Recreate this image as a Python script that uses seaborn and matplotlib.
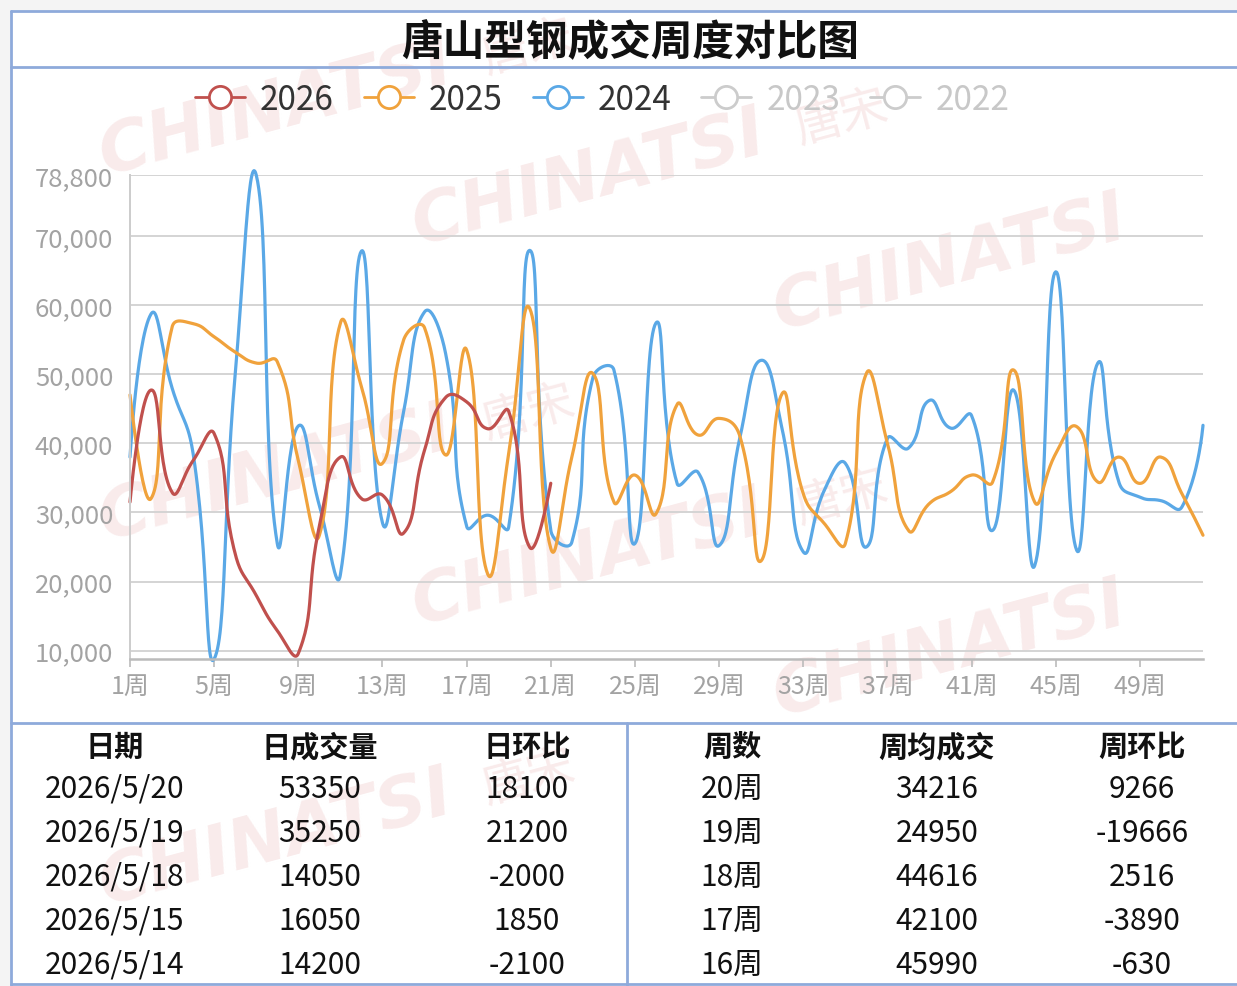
import numpy as np
import matplotlib
matplotlib.use("Agg")
import matplotlib.pyplot as plt
from matplotlib.lines import Line2D
from matplotlib.patches import Rectangle
import seaborn as sns

# CONFIG
sns.set_theme(style="white")
plt.rcParams["font.family"] = ["Noto Sans CJK SC", "DejaVu Sans"]
plt.rcParams["axes.unicode_minus"] = False

# DATA
weeks = list(range(1, 53))
tick_weeks = list(range(1, 53, 4))
tick_labels = [f"{w}周" for w in tick_weeks]

sales_2026 = [31500, 47700, 32900, 37500, 41400, 24000, 18000, 12900, 9600, 28000,
              38000, 32000, 32500, 27000, 39000, 46620, 45990, 42100, 44616, 24950,
              34216]
sales_2025 = [47000, 32000, 56800, 57300, 55400, 53200, 51600, 51800, 37500, 26700,
              57400, 48200, 37100, 54900, 56700, 38300, 53500, 21100, 38500, 59500,
              24800, 38000, 50100, 31500, 35400, 29800, 45600, 41200, 43600, 40900,
              23000, 47200, 32700, 28400, 25500, 50100, 40000, 27400, 31300, 33000,
              35400, 34400, 50600, 31500, 38500, 42400, 34400, 38000, 34200, 38000,
              32700, 26700]
sales_2024 = [38000, 58700, 48000, 38500, 8800, 50000, 78800, 25500, 42500, 31000,
              21000, 67800, 28500, 44500, 59000, 53000, 28000, 29600, 27900, 67900,
              27400, 25700, 49500, 50600, 25500, 57400, 34200, 35800, 25200, 41000,
              52000, 42000, 24300, 33200, 37100, 25000, 40700, 39300, 46200, 42200,
              44000, 27400, 47700, 22300, 64800, 24500, 51600, 34400, 32200, 31700,
              30800, 42600]

legend_years = ["2026", "2025", "2024", "2023", "2022"]
y_min, y_max = 8800, 78800
y_ticks = [10000, 20000, 30000, 40000, 50000, 60000, 70000, 78800]

day_dates = ["2026/5/20", "2026/5/19", "2026/5/18", "2026/5/15", "2026/5/14"]
day_volume = [53350, 35250, 14050, 16050, 14200]
day_change = [18100, 21200, -2000, 1850, -2100]
week_names = ["20周", "19周", "18周", "17周", "16周"]
week_avg = [34216, 24950, 44616, 42100, 45990]
week_change = [9266, -19666, 2516, -3890, -630]

left_headers = ["日期", "日成交量", "日环比"]
right_headers = ["周数", "周均成交", "周环比"]

colors = {"2026": "#c0504d", "2025": "#f0a23c", "2024": "#5aa8e6",
          "2023": "#cccccc", "2022": "#cccccc"}
border = "#8eaadb"
watermark = "#f9ebeb"

W, H = 1237, 987
# plot box in pixels
PX0, PX1, PY0, PY1 = 130, 1203, 176, 660


def smooth_curve(xs, ys, sx, sy, k=0.5, n=30):
    """bezier smoothing like echarts 'smooth: true' (computed in pixel space)"""
    px = np.asarray(xs, float) * sx
    py = np.asarray(ys, float) * sy
    m = len(px)
    cin = np.column_stack([px, py]).copy()
    cout = cin.copy()
    for i in range(1, m - 1):
        vx, vy = px[i + 1] - px[i - 1], py[i + 1] - py[i - 1]
        d0 = np.hypot(px[i] - px[i - 1], py[i] - py[i - 1])
        d1 = np.hypot(px[i + 1] - px[i], py[i + 1] - py[i])
        r0, r1 = d0 / (d0 + d1), d1 / (d0 + d1)
        cin[i] = (px[i] - vx * k * r0, py[i] - vy * k * r0)
        cout[i] = (px[i] + vx * k * r1, py[i] + vy * k * r1)
    t = np.linspace(0, 1, n)[1:]
    out_x, out_y = [px[0]], [py[0]]
    for i in range(m - 1):
        p0, p1, p2, p3 = (px[i], py[i]), cout[i], cin[i + 1], (px[i + 1], py[i + 1])
        for j, acc in ((0, out_x), (1, out_y)):
            acc.extend((1 - t) ** 3 * p0[j] + 3 * (1 - t) ** 2 * t * p1[j]
                       + 3 * (1 - t) * t ** 2 * p2[j] + t ** 3 * p3[j])
    return np.array(out_x) / sx, np.array(out_y) / sy


fig = plt.figure(figsize=(W / 100, H / 100), dpi=100)

# BACKGROUND / FRAME
bg = fig.add_axes([0, 0, 1, 1], zorder=0)
bg.set_xlim(0, W)
bg.set_ylim(H, 0)
bg.axis("off")
bg.add_patch(Rectangle((0, 0), W, H, color="#f4f4f4", zorder=0))
bg.add_patch(Rectangle((11, 12), W, H, color="white", zorder=0))

# watermark tiles (faint)
ang = np.deg2rad(15)
for wx, wy, seal in [(105, 175, True), (105, 540, True), (105, 905, True),
                     (418, 245, True), (418, 625, True),
                     (779, 330, False), (779, 716, False)]:
    bg.text(wx, wy, "CHINATSI", rotation=15, rotation_mode="anchor", ha="left",
            va="baseline", fontsize=50, fontweight="bold", style="italic",
            family="DejaVu Sans", color=watermark, zorder=1)
    if seal:
        bg.text(wx + 395 * np.cos(ang), wy - 395 * np.sin(ang), "唐宋", rotation=15,
                rotation_mode="anchor", ha="left", va="baseline", fontsize=34,
                color=watermark, zorder=1)

lw_b = 2.0
bg.plot([11, W], [12, 12], color=border, lw=lw_b, zorder=3)
bg.plot([11, 11], [12, H], color=border, lw=lw_b, zorder=3)
bg.plot([11, W], [68, 68], color=border, lw=lw_b, zorder=3)
bg.plot([11, W], [724, 724], color=border, lw=lw_b, zorder=3)
bg.plot([627, 627], [724, H], color=border, lw=lw_b, zorder=3)
bg.plot([11, W], [985, 985], color=border, lw=lw_b, zorder=3)

bg.text(630, 43, "唐山型钢成交周度对比图", ha="center", va="center", fontsize=30,
        fontweight="bold", color="#111111", zorder=4)

# TABLE
left_cols = [115, 320, 527]
right_cols = [732, 937, 1142]
for x, h in zip(left_cols + right_cols, left_headers + right_headers):
    bg.text(x, 747, h, ha="center", va="center", fontsize=21, fontweight="bold",
            color="#111111", zorder=4)
for i in range(len(day_dates)):
    y = 789 + 44 * i
    row = [day_dates[i], day_volume[i], day_change[i],
           week_names[i], week_avg[i], week_change[i]]
    for x, v in zip(left_cols + right_cols, row):
        bg.text(x, y, str(v), ha="center", va="center", fontsize=21.5,
                color="#111111", zorder=4)

# CHART
ax = fig.add_axes([PX0 / W, 1 - PY1 / H, (PX1 - PX0) / W, (PY1 - PY0) / H], zorder=2)
ax.patch.set_alpha(0)
sx = (PX1 - PX0) / (len(weeks) - 1)
sy = (PY1 - PY0) / (y_max - y_min)

for year, vals in [("2024", sales_2024), ("2025", sales_2025), ("2026", sales_2026)]:
    cx, cy = smooth_curve(weeks[:len(vals)], vals, sx, sy)
    sns.lineplot(x=cx, y=cy, ax=ax, color=colors[year], lw=2.3, sort=False,
                 estimator=None, clip_on=False)

ax.set_xlim(1, 52)
ax.set_ylim(y_min, y_max)
ax.set_xticks(tick_weeks)
ax.set_xticklabels(tick_labels)
ax.set_yticks(y_ticks)
ax.set_yticklabels([f"{v:,}" for v in y_ticks])
ax.yaxis.grid(True, color="#d4d4d4", lw=1.4)
ax.xaxis.grid(False)
ax.tick_params(axis="x", length=6, width=1.2, color="#bbbbbb", direction="out",
               pad=5, labelsize=18, labelcolor="#a3a3a3", bottom=True)
ax.tick_params(axis="y", length=0, pad=12, labelsize=18.5, labelcolor="#a3a3a3")
for side in ["top", "right"]:
    ax.spines[side].set_visible(False)
ax.spines["left"].set_color("#cccccc")
ax.spines["left"].set_linewidth(1.4)
ax.spines["bottom"].set_color("#bbbbbb")
ax.spines["bottom"].set_linewidth(1.8)
ax.set_xlabel("")
ax.set_ylabel("")

# LEGEND
handles = [Line2D([0], [0], color=colors[y], lw=2, marker="o", markersize=16,
                  markerfacecolor="white", markeredgecolor=colors[y], markeredgewidth=2)
           for y in legend_years]
leg = fig.legend(handles, legend_years, loc="center", ncol=5, frameon=False,
                 bbox_to_anchor=(602 / W, 1 - 100 / H), fontsize=24,
                 handlelength=1.5, handletextpad=0.45, columnspacing=0.9,
                 labelcolor=["#333333", "#333333", "#333333", "#c8c8c8", "#c8c8c8"])

fig.savefig("out.png", dpi=100)
